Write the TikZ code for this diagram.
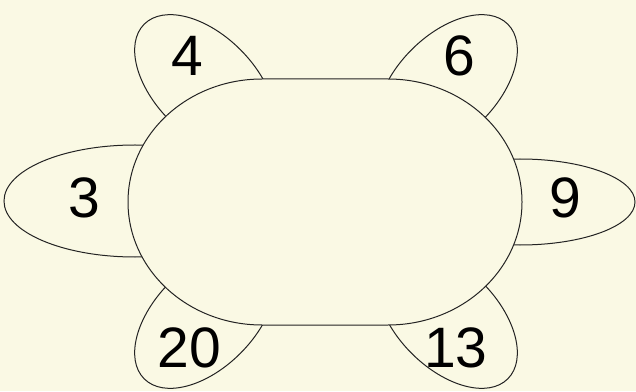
\documentclass[tikz,border=0pt]{standalone}
\usepackage{fontspec}
\setmainfont{Liberation Sans}
\definecolor{cream}{RGB}{250,249,228}
\definecolor{ink}{RGB}{35,35,35}
\begin{document}
\begin{tikzpicture}[x=1pt,y=1pt,
  shape line/.style={draw=ink,line width=1pt,fill=cream},
  num/.style={inner sep=0pt,font=\fontsize{57}{57}\selectfont}]
\useasboundingbox (0,0) rectangle (636,391);
\fill[cream] (0,0) rectangle (636,391);
% petals
\draw[shape line] (135,190) ellipse[x radius=131,y radius=56];
\draw[shape line] (520,189) ellipse[x radius=115,y radius=43];
\draw[shape line,rotate around={-45:(205,306)}] (205,306) ellipse[x radius=86,y radius=50];
\draw[shape line,rotate around={45:(447,306)}] (447,306) ellipse[x radius=86,y radius=50];
\draw[shape line,rotate around={45:(205,73)}] (205,73) ellipse[x radius=86,y radius=50];
\draw[shape line,rotate around={-45:(447,73)}] (447,73) ellipse[x radius=86,y radius=50];
% body
\draw[shape line] (262,312) -- (388,312)
  arc[start angle=90,end angle=-90,x radius=134,y radius=123]
  -- (262,66)
  arc[start angle=270,end angle=90,x radius=134,y radius=123] -- cycle;
% labels
\node[num] (n4) at (187,335.5) {4};
\node[num] (n6) at (459,335) {6};
\node[num] (n3) at (84.5,193) {3};
\node[num] (n9) at (565,193) {9};
\node[num] (n20) at (189.5,43.5) {20};
\node[num] (n13) at (456,43.5) {13};
\end{tikzpicture}
\end{document}
